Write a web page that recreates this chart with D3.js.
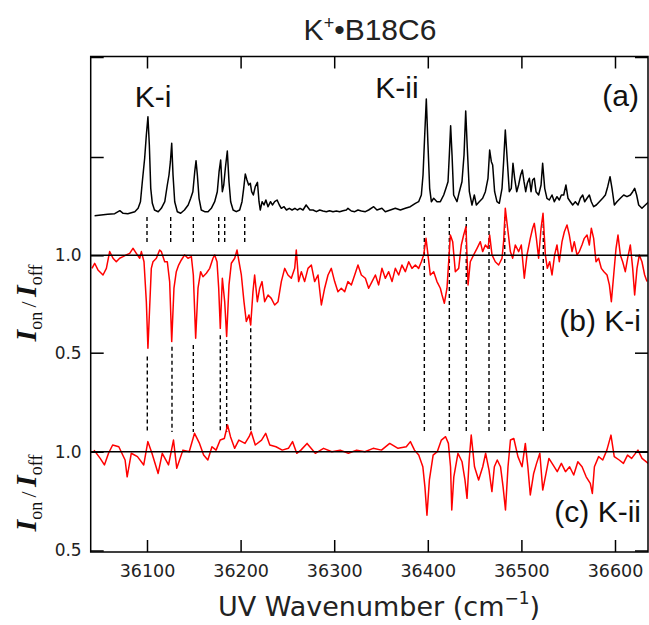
<!DOCTYPE html>
<html><head><meta charset="utf-8">
<script src="https://cdn.jsdelivr.net/npm/d3@7"></script>
<style>body{margin:0;background:#fff}</style>
</head><body>
<svg id="c" width="649" height="625" xmlns="http://www.w3.org/2000/svg"></svg>
<script>
// ---------------- data ----------------
const xTicks = [36100, 36200, 36300, 36400, 36500, 36600];
const ratioTicks = [0.5, 1.0];
const panelATicks = [1, 2];

// (a) UV spectrum (arb. units) : [wavenumber, intensity]
const spectrumA = [
[36044,0.413],[36051,0.42],[36058,0.427],[36065.5,0.433],[36071,0.463],[36074.5,0.437],[36079.5,0.433],[36087,0.453],[36090.5,0.487],[36093,0.553],
[36095,0.753],[36097.5,0.987],[36099.3,1.22],[36101,1.403],[36102.5,1.12],[36104,0.687],[36105.7,0.537],[36108,0.47],[36112,0.453],[36115.3,0.487],
[36119,0.553],[36121.7,0.72],[36123.5,0.82],[36125,0.953],[36126.4,1.137],[36127.8,0.82],[36129.6,0.553],[36132.4,0.453],[36136,0.437],[36140,0.47],
[36144,0.52],[36146.7,0.587],[36149,0.653],[36151,0.853],[36152.4,0.963],[36153.8,0.82],[36155.6,0.587],[36158,0.47],[36161.6,0.453],[36165.2,0.453],
[36168.7,0.487],[36172.3,0.553],[36175.1,0.653],[36177,0.853],[36178.7,0.97],[36180.5,0.653],[36182,0.72],[36183.7,0.887],[36185.8,1.06],[36187.6,0.753],
[36189.4,0.553],[36192,0.47],[36195.4,0.453],[36199,0.47],[36201.5,0.553],[36203.3,0.687],[36205,0.83],[36206.8,0.77],[36208.6,0.72],[36210.4,0.737],
[36211.8,0.653],[36213.6,0.62],[36215.7,0.703],[36218,0.747],[36219.7,0.553],[36221,0.47],[36223,0.553],[36225,0.52],[36227,0.57],[36229.3,0.503],
[36232,0.553],[36234,0.52],[36236.4,0.553],[36239,0.57],[36241.4,0.52],[36243.5,0.487],[36246.4,0.503],[36249,0.47],[36252,0.487],[36255,0.47],
[36258,0.487],[36260.6,0.47],[36263.5,0.487],[36266.7,0.47],[36270,0.52],[36274,0.47],[36277.4,0.47],[36281,0.453],[36284.5,0.47],[36288,0.46],
[36291.6,0.453],[36295,0.463],[36298.7,0.453],[36302.3,0.46],[36305.8,0.453],[36309.4,0.463],[36313,0.47],[36314.7,0.487],[36318.3,0.46],[36322,0.453],
[36325.4,0.47],[36329,0.46],[36333.3,0.453],[36336.8,0.47],[36342.2,0.503],[36345.7,0.47],[36351,0.487],[36354.6,0.453],[36360,0.47],[36365.3,0.487],
[36370.7,0.47],[36376,0.487],[36381.3,0.503],[36386.7,0.537],[36390.2,0.553],[36393.1,0.62],[36394.9,0.82],[36396.7,1.22],[36398.4,1.58],[36400.2,1.12],
[36402,0.687],[36403.8,0.553],[36406.3,0.587],[36409.8,0.553],[36413.4,0.553],[36417,0.62],[36419.4,0.687],[36421.6,0.753],[36423,1.02],[36424.4,1.313],
[36425.9,1.02],[36427.6,0.62],[36431.2,0.553],[36433.7,0.653],[36436.5,0.753],[36438.7,1.02],[36440.5,1.46],[36442.2,1.087],[36444.4,0.653],[36447.2,0.52],
[36449.7,0.62],[36451.9,0.52],[36455,0.553],[36458.6,0.587],[36461.5,0.653],[36464.3,0.787],[36466.1,1.07],[36467.9,0.953],[36469.3,0.92],[36471.4,0.653],
[36473.9,0.553],[36476.4,0.537],[36479.3,0.687],[36481,0.953],[36482.8,1.27],[36485,0.953],[36487.1,0.653],[36489.2,0.687],[36491,0.937],[36492.8,0.787],
[36495,0.653],[36497,0.72],[36499.2,0.82],[36501,0.87],[36502.8,0.753],[36504.6,0.653],[36506.3,0.737],[36508.5,0.787],[36510.3,0.653],[36512,0.77],
[36513.8,0.787],[36515.6,0.653],[36518.4,0.62],[36521,0.72],[36522.7,0.937],[36524.9,0.687],[36527.3,0.587],[36529.8,0.57],[36532.7,0.62],[36535.2,0.553],
[36538,0.603],[36540.5,0.57],[36542.7,0.62],[36545.2,0.62],[36547.6,0.72],[36549.8,0.587],[36552.3,0.553],[36554.8,0.52],[36557.6,0.553],[36560.5,0.52],
[36563,0.587],[36565.5,0.62],[36567.6,0.553],[36570.1,0.587],[36572.6,0.62],[36574.7,0.553],[36577.2,0.503],[36580,0.52],[36583.3,0.553],[36586.8,0.587],
[36589.7,0.62],[36592.2,0.703],[36594.7,0.803],[36596.8,0.687],[36599.3,0.52],[36602.1,0.553],[36605.7,0.587],[36609.3,0.62],[36612.8,0.603],[36616.4,0.62],
[36618.9,0.653],[36621,0.687],[36623.1,0.62],[36625.3,0.52],[36628.8,0.487],[36632.4,0.52],[36636.3,0.553]
];

// (b) K-i ratio I_on/I_off : [wavenumber, ratio]
const ratioB = [
[36041.2,0.933],[36044.1,0.959],[36047.6,0.925],[36053,0.899],[36056.6,0.933],[36060.1,1.019],[36063.7,0.985],[36067.2,0.967],[36070.8,0.985],[36074.4,0.993],
[36077.9,1.002],[36081.5,1.01],[36085,1.036],[36088.6,1.01],[36092.2,0.985],[36094,1.019],[36096.8,0.967],[36099.3,0.762],[36101,0.523],[36102.8,0.728],
[36104.6,0.933],[36106.4,0.967],[36110,0.985],[36113.5,1.027],[36115.3,1.019],[36118.9,0.967],[36121.7,0.967],[36124.2,0.865],[36126.4,0.557],[36128.8,0.831],
[36131.3,0.916],[36133.8,0.95],[36136.7,0.976],[36140.2,1.002],[36143.8,0.985],[36147.4,0.993],[36149.5,0.899],[36152,0.574],[36154.5,0.831],[36157.3,0.916],
[36159.8,0.89],[36163.4,0.908],[36167,0.933],[36170.5,0.985],[36172.3,1.002],[36174.8,0.967],[36176.6,0.831],[36178.3,0.625],[36180.5,0.882],[36183,0.762],
[36185.1,0.583],[36187.6,0.848],[36190.1,0.959],[36193.7,0.985],[36196.2,1.027],[36198.3,0.967],[36200.8,0.899],[36203.6,0.762],[36206.1,0.66],[36209,0.694],
[36210.8,0.642],[36213.2,0.813],[36215,0.899],[36217.9,0.762],[36220.4,0.831],[36222.9,0.865],[36225.7,0.762],[36229.3,0.796],[36232.8,0.779],[36236.4,0.745],
[36240,0.762],[36243.5,0.865],[36247.1,0.933],[36250.6,0.899],[36254.2,0.882],[36257.8,0.933],[36259.5,1.027],[36262,0.865],[36264.9,0.916],[36268.4,0.865],
[36272,0.933],[36275.6,0.95],[36279.1,0.865],[36282.7,0.899],[36286.3,0.745],[36289.8,0.831],[36293.4,0.899],[36296.9,0.933],[36300.5,0.865],[36304,0.813],
[36307.6,0.831],[36311.2,0.813],[36314.7,0.865],[36318.3,0.848],[36321.9,0.899],[36325.4,0.95],[36329,0.899],[36333.3,0.882],[36336.8,0.831],[36340.4,0.865],
[36344,0.899],[36347.5,0.848],[36351,0.933],[36354.6,0.882],[36358.2,0.916],[36361.8,0.865],[36365.3,0.933],[36368.9,0.899],[36372.4,0.95],[36376,0.916],
[36379.6,0.967],[36383.1,0.933],[36386.7,0.95],[36390.2,0.933],[36393.1,0.967],[36395.6,1.002],[36398.1,1.087],[36400.2,1.002],[36402.7,0.899],[36406.3,0.916],
[36409.8,0.865],[36413.4,0.831],[36415.2,0.796],[36417.7,0.754],[36420.5,0.831],[36422.3,0.967],[36424.1,1.104],[36426.6,1.07],[36429.4,0.916],[36433,0.933],
[36435.8,1.053],[36438.3,1.104],[36440.8,1.147],[36443,0.848],[36445.4,0.967],[36449,1.002],[36452.6,1.036],[36456.1,1.07],[36458.6,1.019],[36461.5,1.053],
[36464.3,1.036],[36466.1,1.104],[36468.6,1.002],[36472.1,0.967],[36475.7,0.95],[36479.3,0.985],[36481,1.07],[36482.8,1.241],[36485.3,1.139],[36488.2,1.019],
[36490.7,0.985],[36493.5,1.053],[36497.1,1.019],[36499.9,1.053],[36503.1,0.882],[36506,1.002],[36509.5,1.087],[36512,1.139],[36513.8,1.164],[36516,1.087],
[36518.4,0.985],[36521,1.139],[36523.1,1.216],[36525.6,1.002],[36527.7,0.933],[36530.2,0.967],[36532.7,0.899],[36535.5,1.002],[36538,1.053],[36540.5,0.967],
[36543.4,1.07],[36545.9,1.121],[36548.7,1.156],[36551.2,1.104],[36554.1,1.019],[36556.5,1.07],[36559.4,1.002],[36561.9,1.019],[36564.7,1.053],[36567.2,1.087],
[36570.1,1.104],[36572.6,1.053],[36574.7,1.139],[36577.2,1.087],[36579.7,0.967],[36582.5,0.985],[36585.4,0.933],[36588.2,0.916],[36591.5,0.899],[36594,0.848],
[36596.1,0.762],[36598.6,0.899],[36601.1,1.036],[36603.2,1.104],[36605.7,1.002],[36608.2,0.967],[36611,0.916],[36613.5,0.985],[36616.4,1.053],[36618.9,0.933],
[36621,0.796],[36623.5,0.933],[36626,1.002],[36628.8,0.967],[36631.7,0.899],[36634.2,0.865]
];

// (c) K-ii ratio I_on/I_off : [wavenumber, ratio]
const ratioC = [
[36043.4,1.008],[36050,0.966],[36054.5,0.933],[36058.9,0.992],[36063.3,1.034],[36069.9,1.025],[36076.6,0.958],[36078.8,0.873],[36083.2,0.992],[36089.8,0.975],
[36096.5,0.933],[36100.9,1.051],[36105.3,0.992],[36111.9,0.89],[36116.3,0.992],[36123,0.933],[36128.3,1.059],[36131.8,0.916],[36138.4,1.008],[36145.1,1.0],
[36150.8,1.093],[36156.1,1.042],[36160.5,0.983],[36165,0.958],[36169.4,1.025],[36173.8,1.008],[36178.2,1.059],[36182.6,1.067],[36186.1,1.135],[36189.2,1.076],
[36193.6,1.017],[36198.1,1.059],[36204.7,1.042],[36209.1,1.076],[36211.3,1.101],[36215.7,1.034],[36222.4,1.059],[36226.8,1.093],[36231.2,1.034],[36237.8,1.025],
[36244.5,1.008],[36251.1,1.017],[36255.5,1.051],[36260,0.992],[36264.4,1.008],[36271,1.042],[36279.8,0.992],[36288.6,1.017],[36297.5,1.0],[36306.3,1.008],
[36315.1,0.992],[36324,1.008],[36332.8,1.0],[36341.6,1.017],[36350.5,1.008],[36359.3,1.042],[36368.2,1.017],[36377,1.025],[36381.4,1.051],[36385.8,1.008],
[36390.3,0.983],[36394.7,0.924],[36396.9,0.823],[36399.1,0.679],[36401.7,0.857],[36405.7,0.983],[36410.1,1.0],[36414.5,1.059],[36419,1.076],[36422,1.042],
[36424.3,0.924],[36425.6,0.705],[36427.8,0.873],[36432.2,0.992],[36436.6,0.949],[36439.7,0.857],[36441.9,0.764],[36444.2,0.958],[36446.4,1.084],[36449.9,0.924],
[36454.3,0.857],[36458.7,0.924],[36461.8,0.992],[36465.4,0.907],[36468.5,0.798],[36471.1,0.924],[36474.2,0.958],[36477.7,0.924],[36480.4,0.823],[36483,0.705],
[36485.7,0.924],[36488.3,1.059],[36491.9,1.067],[36496.3,0.975],[36500.7,0.924],[36504.2,1.042],[36506.9,0.924],[36509.5,0.781],[36513.1,0.89],[36516.2,0.941],
[36519.7,0.992],[36522.8,0.806],[36526.3,0.89],[36529.4,0.966],[36533.8,0.933],[36538.3,0.899],[36542.7,0.941],[36547.1,0.899],[36551.5,0.924],[36555.9,0.882],
[36560.3,0.949],[36564.8,0.924],[36569.2,0.873],[36573.6,0.84],[36575.8,0.789],[36578,0.924],[36582.5,0.975],[36586.9,0.958],[36591.3,1.008],[36595.7,1.084],
[36599.2,0.975],[36604.5,0.958],[36609,0.941],[36613.4,0.983],[36617.8,0.966],[36624.5,1.008],[36628.9,0.966],[36635.5,0.941]
];

// guide lines (wavenumbers), in panel (b) ratio units
const kiTopWn = [36100, 36125.3, 36149.5, 36176.6, 36183, 36204.4];
const kiLowWn = [36100.3, 36126.7, 36149.5, 36178.3, 36185.1, 36210.8];
const kiLowStart = [0.48, 0.531, 0.54, 0.59, 0.565, 0.625];
const kiiWn = [36396.3, 36423, 36441.1, 36465.4, 36482.2, 36523.4];
const guideTop = 1.197, kiTopEnd = 1.063, guideBottom = 0.093;

// ---------------- layout ----------------
const L = 90.7, R = 648, T = 56.5, B = 552;
const svg = d3.select("#c");
const x = d3.scaleLinear().domain([36100, 36600]).range([147, 615]);
const yA = d3.scaleLinear().domain([0, 2]).range([257, 57]);
const yB = d3.scaleLinear().domain([0.5, 1.0]).range([352.7, 255.3]);
const yC = d3.scaleLinear().domain([0.5, 1.0]).range([550.5, 451.7]);

svg.append("clipPath").attr("id","clp").append("rect")
  .attr("x", L).attr("y", T).attr("width", R - L).attr("height", B - T);
const plot = svg.append("g").attr("clip-path","url(#clp)");

// guide dashed lines
const dash = "4,3";
plot.selectAll(".kit").data(kiTopWn).join("line")
  .attr("x1", d => x(d)).attr("x2", d => x(d))
  .attr("y1", yB(guideTop)).attr("y2", yB(kiTopEnd))
  .attr("stroke","#000").attr("stroke-width",1.4).attr("stroke-dasharray",dash);
plot.selectAll(".kil").data(kiLowWn).join("line")
  .attr("x1", d => x(d)).attr("x2", d => x(d))
  .attr("y1", (d,i) => yB(kiLowStart[i])).attr("y2", yB(guideBottom))
  .attr("stroke","#000").attr("stroke-width",1.4).attr("stroke-dasharray",dash);
plot.selectAll(".kii").data(kiiWn).join("line")
  .attr("x1", d => x(d)).attr("x2", d => x(d))
  .attr("y1", yB(guideTop)).attr("y2", yB(guideBottom))
  .attr("stroke","#000").attr("stroke-width",1.4).attr("stroke-dasharray",dash);

// reference lines at 1.0
[yB(1.0), yC(1.0)].forEach(yy => {
  svg.append("line").attr("x1", L).attr("x2", R).attr("y1", yy).attr("y2", yy)
    .attr("stroke","#000").attr("stroke-width",1.5);
});

// traces
const lineA = d3.line().x(d => x(d[0])).y(d => yA(d[1]));
const lineB = d3.line().x(d => x(d[0])).y(d => yB(d[1]));
const lineC = d3.line().x(d => x(d[0])).y(d => yC(d[1]));
plot.append("path").attr("d", lineA(spectrumA)).attr("fill","none")
  .attr("stroke","#000").attr("stroke-width",1.5).attr("stroke-linejoin","round");
plot.append("path").attr("d", lineB(ratioB)).attr("fill","none")
  .attr("stroke","#ff0000").attr("stroke-width",1.5).attr("stroke-linejoin","round");
plot.append("path").attr("d", lineC(ratioC)).attr("fill","none")
  .attr("stroke","#ff0000").attr("stroke-width",1.5).attr("stroke-linejoin","round");

// frame
svg.append("rect").attr("x", L).attr("y", T).attr("width", R - L).attr("height", B - T)
  .attr("fill","none").attr("stroke","#000").attr("stroke-width",1.5);

// x axes (inward ticks)
const tickFont = "'DejaVu Sans', sans-serif";
const xb = svg.append("g").attr("transform", `translate(0,${B})`)
  .call(d3.axisBottom(x).tickValues(xTicks).tickFormat(d3.format("d")).tickSize(-12).tickPadding(13));
const xt = svg.append("g").attr("transform", `translate(0,${T})`)
  .call(d3.axisTop(x).tickValues(xTicks).tickFormat("").tickSize(-12));
[xb, xt].forEach(g => {
  g.select(".domain").remove();
  g.selectAll(".tick line").attr("stroke","#000").attr("stroke-width",1.5);
});
xb.selectAll("text").attr("font-family", tickFont).attr("font-size", 17.5).attr("fill","#222");

// y axes
function yAxis(scale, ticks, labels) {
  const gl = svg.append("g").attr("transform", `translate(${L},0)`)
    .call(d3.axisLeft(scale).tickValues(ticks).tickSize(-13).tickPadding(9)
      .tickFormat(labels ? d3.format(".1f") : ""));
  const gr = svg.append("g").attr("transform", `translate(${R},0)`)
    .call(d3.axisRight(scale).tickValues(ticks).tickSize(-13).tickFormat(""));
  [gl, gr].forEach(g => {
    g.select(".domain").remove();
    g.selectAll(".tick line").attr("stroke","#000").attr("stroke-width",1.5);
  });
  gl.selectAll("text").attr("font-family", tickFont).attr("font-size", 17).attr("fill","#222");
}
yAxis(yA, panelATicks, false);
yAxis(yB, ratioTicks, true);
yAxis(yC, ratioTicks, true);

// texts
const sans = "'Liberation Sans', Arial, sans-serif";
const title = svg.append("text").attr("x", 370).attr("y", 40).attr("text-anchor","middle")
  .attr("font-family", sans).attr("font-size", 30).attr("fill","#222");
title.append("tspan").text("K");
title.append("tspan").attr("font-size", 18).attr("dy", -11).text("+");
title.append("tspan").attr("dy", 11).text("•B18C6");

function label(t, xx, yy, anchor) {
  svg.append("text").attr("x", xx).attr("y", yy).attr("text-anchor", anchor)
    .attr("font-family", sans).attr("font-size", 30).attr("fill","#111").text(t);
}
label("K-i", 153, 107, "middle");
label("K-ii", 397, 98, "middle");
label("(a)", 639, 106, "end");
label("(b) K-i", 641, 331, "end");
label("(c) K-ii", 641, 522, "end");

// y axis titles
function yTitle(cy) {
  const t = svg.append("text").attr("transform", `translate(36,${cy}) rotate(-90)`)
    .attr("text-anchor","middle").attr("font-family","'Liberation Serif', 'Times New Roman', serif")
    .attr("font-size", 30).attr("fill","#111");
  t.append("tspan").attr("font-style","italic").attr("font-weight","bold").text("I");
  t.append("tspan").attr("font-size", 18).attr("dy", 6).text("on");
  t.append("tspan").attr("font-size", 22).attr("dy", -6).text("\u2009/\u2009");
  t.append("tspan").attr("font-style","italic").attr("font-weight","bold").text("I");
  t.append("tspan").attr("font-size", 18).attr("dy", 6).text("off");
}
yTitle(303);
yTitle(493);

// x axis title
const xt2 = svg.append("text").attr("x", 379).attr("y", 616).attr("text-anchor","middle")
  .attr("font-family", tickFont).attr("font-size", 27).attr("fill","#222");
xt2.append("tspan").text("UV Wavenumber (cm");
xt2.append("tspan").attr("font-size", 17).attr("dy", -12).text("−1");
xt2.append("tspan").attr("dy", 12).text(")");
</script>
</body></html>
